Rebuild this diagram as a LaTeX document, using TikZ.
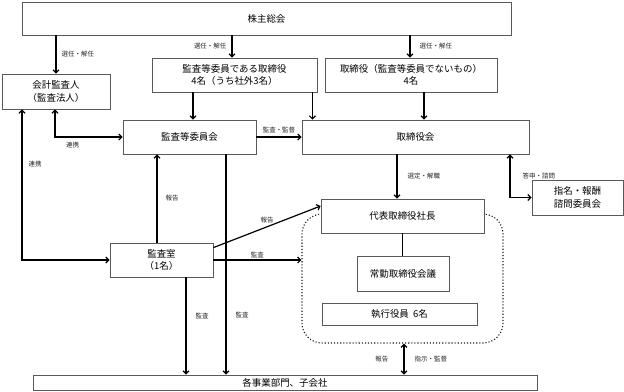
\documentclass[tikz,border=0pt]{standalone}
\usepackage{fontspec}
\setmainfont{Noto Sans CJK JP}
\usetikzlibrary{arrows.meta}

\begin{document}
\begin{tikzpicture}[
        x=1bp, y=-1bp,
        box/.style={rectangle, draw=black!65, line width=0.8bp, fill=white, inner sep=0pt, align=center, font=\fontsize{9.5}{12.5}\selectfont},
        group/.style={rectangle, draw=black!90, line width=1.1bp, dotted, rounded corners=20bp, inner sep=0pt},
        arrow/.style={->, line width=1.2bp, >={Straight Barb[length=3bp,width=6bp]}, draw=black},
        biarrow/.style={arrow, <->},
        line/.style={line width=1.2bp, draw=black},
        lbl/.style={font=\fontsize{6.5}{8}\selectfont, text=black!85, inner sep=1bp}
    ]
        \useasboundingbox (0,0) rectangle (624,391);

        % Nodes
        \node[group, minimum width=201bp, minimum height=129bp] (mgmt) at (402.5,278.5) {};
        \node[box, minimum width=489bp, minimum height=33bp] (agm) at (266.5,18.5) {株主総会};
        \node[box, minimum width=108bp, minimum height=35bp] (auditor) at (56,91.5) {会計監査人\\（監査法人）};
        \node[box, minimum width=165bp, minimum height=34bp] (acdir) at (234.5,75) {監査等委員である取締役\\4名（うち社外3名）};
        \node[box, minimum width=172bp, minimum height=34bp] (dir) at (411,75) {取締役（監査等委員でないもの）\\4名};
        \node[box, minimum width=133bp, minimum height=34bp] (acc) at (189.5,137) {監査等委員会};
        \node[box, minimum width=227bp, minimum height=34bp] (board) at (415.5,137) {取締役会};
        \node[box, minimum width=91bp, minimum height=35bp] (nomcom) at (577.5,197.5) {指名・報酬\\諮問委員会};
        \node[box, minimum width=163bp, minimum height=34bp] (ceo) at (402.5,216) {代表取締役社長};
        \node[box, minimum width=103bp, minimum height=34bp] (iad) at (161.5,260) {監査室\\（1名）};
        \node[box, minimum width=92bp, minimum height=35bp] (jokin) at (403,273.5) {常勤取締役会議};
        \node[box, minimum width=155bp, minimum height=22bp] (exec) at (399.5,314) {執行役員\ \ 6名};
        \node[box, minimum width=504bp, minimum height=15bp] (units) at (285,382.5) {各事業部門、子会社};

        % Paths
        \draw[arrow] (auditor.north |- agm.south) -- (auditor.north) node[midway, right=4bp, lbl] {選任・解任};
        \draw[arrow] ([xshift=-2.5bp]acdir.north |- agm.south) -- ([xshift=-2.5bp]acdir.north) node[midway, left=4bp, lbl] {選任・解任};
        \draw[arrow] ([xshift=-1bp]dir.north |- agm.south) -- ([xshift=-1bp]dir.north) node[midway, right=8bp, lbl] {選任・解任};
        \draw[arrow] ([xshift=3.5bp]acc.north |- acdir.south) -- ([xshift=3.5bp]acc.north);
        \draw[arrow] ([xshift=-5bp]acdir.south east) -- ([xshift=-5bp]acdir.south east |- board.north);
        \draw[arrow] ([xshift=13bp]dir.south) -- ([xshift=13bp]dir.south |- board.north);
        \draw[arrow] (acc.east) -- (board.west) node[midway, above=2bp, lbl] {監査・監督};
        \draw[biarrow] ([xshift=-1bp]auditor.south) |- (acc.west) node[pos=0.63, below=3bp, lbl] {連携};
        \draw[biarrow] ([xshift=-34bp]auditor.south) |- (iad.west) node[pos=0.18, right=5bp, lbl] {連携};
        \draw[arrow] ([xshift=-4.5bp]iad.north) -- ([xshift=-4.5bp]iad.north |- acc.south) node[midway, right=7bp, lbl] {報告};
        \draw[arrow] ([xshift=36.5bp]acc.south) -- ([xshift=36.5bp]acc.south |- units.north) node[pos=0.73, right=8bp, lbl] {監査};
        \draw[arrow] ([xshift=24.5bp]iad.south) -- ([xshift=24.5bp]iad.south |- units.north) node[pos=0.4, right=8bp, lbl] {監査};
        \draw[arrow] ([yshift=-5bp]iad.north east) -- ([yshift=10bp]ceo.west) node[midway, above=2bp, lbl] {報告};
        \draw[arrow] (iad.east) -- (iad.east -| mgmt.west) node[midway, above=1bp, lbl] {監査};
        \draw[arrow] ([xshift=-18.5bp]board.south) -- ([xshift=-18.5bp]board.south |- ceo.north) node[midway, right=9bp, lbl] {選定・解職};
        \draw[biarrow] ([xshift=94.5bp]board.south) |- (nomcom.west) node[pos=0.25, right=11bp, lbl] {答申・諮問};
        \draw[line] (ceo.south) -- (ceo.south |- jokin.north);
        \draw[biarrow] ([xshift=1.5bp]mgmt.south) -- ([xshift=1.5bp]mgmt.south |- units.north)
            node[midway, left=14bp, lbl] {報告} node[midway, right=9bp, lbl] {指示・監督};
    \end{tikzpicture}
\end{document}
